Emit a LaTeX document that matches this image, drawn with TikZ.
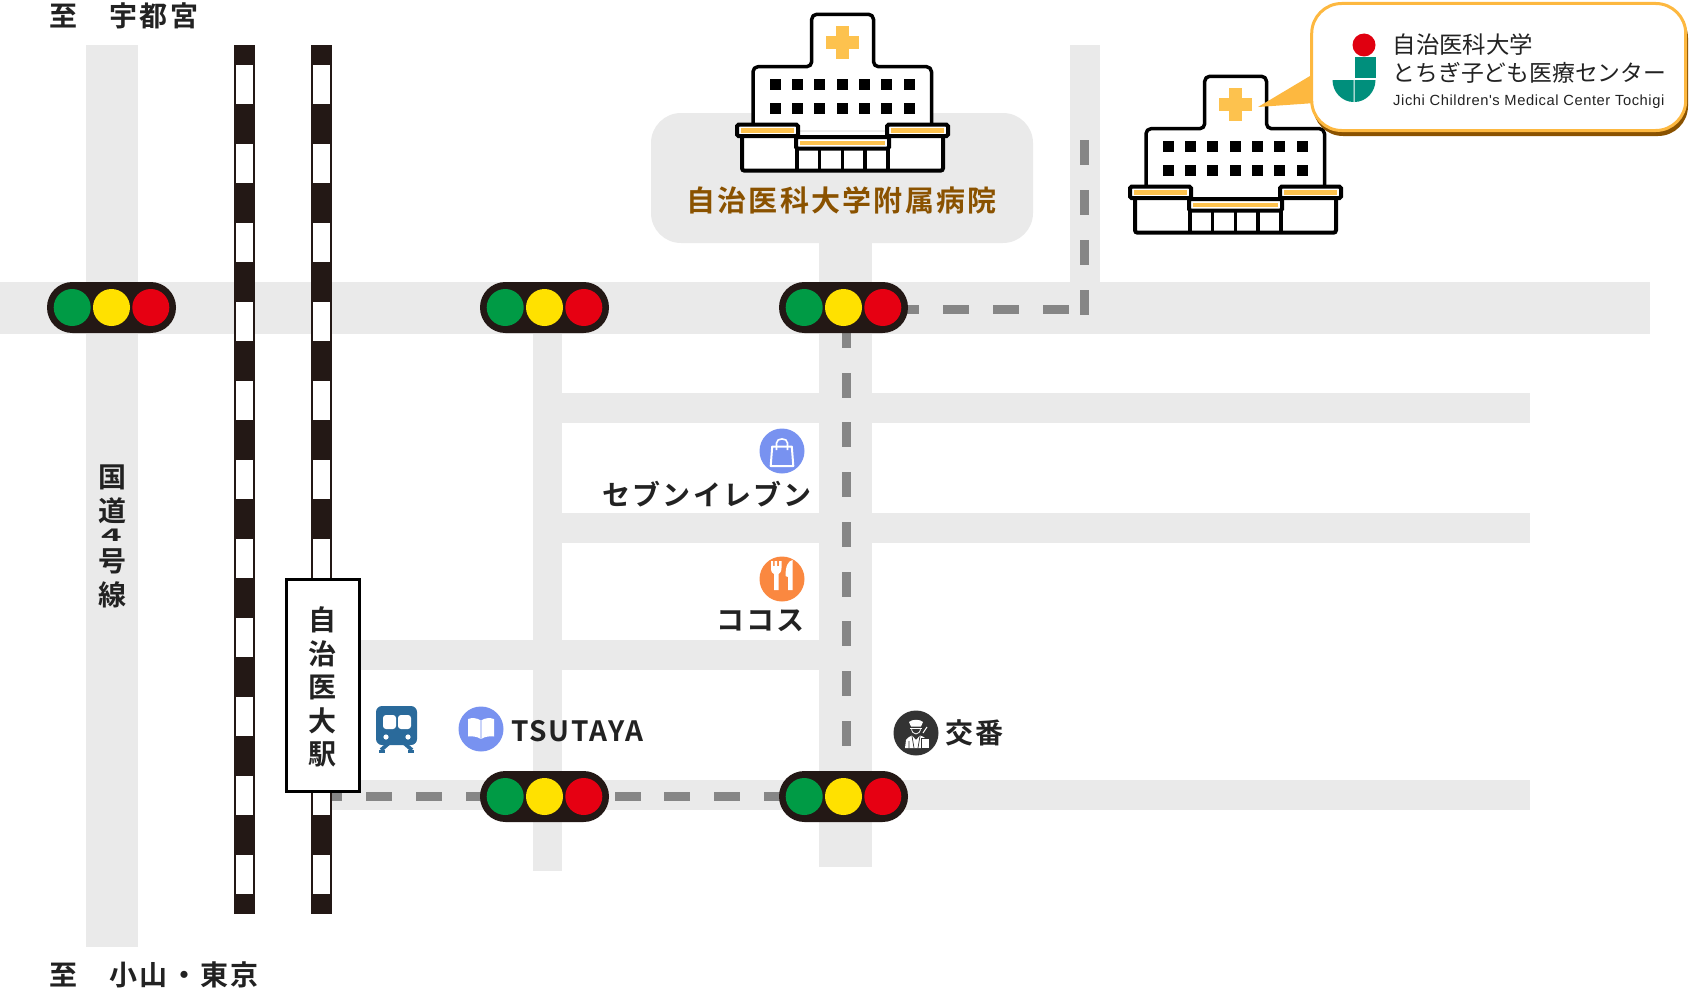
\documentclass[tikz,border=0pt]{standalone}
\usepackage{graphicx}
\usepackage{fontspec}
\newfontfamily\jp[LetterSpace=8]{Noto Sans CJK JP Bold}
\newfontfamily\jpt[LetterSpace=6]{Noto Sans CJK JP Bold}
\newfontfamily\jpl[LetterSpace=8]{Noto Sans CJK JP Bold}
\newfontfamily\jpr{Noto Sans CJK JP}
\newfontfamily\en[LetterSpace=4]{Liberation Sans}
\definecolor{roadc}{HTML}{EAEAEA}
\definecolor{dashc}{HTML}{868686}
\definecolor{rail}{HTML}{231815}
\definecolor{sigg}{HTML}{009B45}
\definecolor{sigy}{HTML}{FFE100}
\definecolor{sigr}{HTML}{E60012}
\definecolor{hosp}{HTML}{FDC24E}
\definecolor{bubble}{HTML}{FDB840}
\definecolor{brownc}{HTML}{8A5200}
\definecolor{teal}{HTML}{008F7C}
\definecolor{redc}{HTML}{E00010}
\definecolor{iconb}{HTML}{7892F0}
\definecolor{icono}{HTML}{FA8840}
\definecolor{iconp}{HTML}{333333}
\definecolor{trainc}{HTML}{2A6A9B}
\definecolor{textc}{HTML}{222222}
\tikzset{
 roadbar/.style={fill=roadc,draw=none},
 dashbar/.style={fill=dashc,draw=none},
 lab/.style={inner sep=0pt,text=textc,font=\fontsize{28}{28}\jp},
 stack/.style={lab,align=center},
 signal/.pic={
  \fill[rail,rounded corners=25.4] (-64.5,-25.5) rectangle (64.5,25.5);
  \fill[sigg] (-39.3,0) circle (18.5);
  \fill[sigy] (0,0) circle (18.5);
  \fill[sigr] (39.3,0) circle (18.5);
 },
 hospital/.pic={
  \filldraw[fill=white,draw=black,line width=3.5,rounded corners=5,line join=round]
    (-89,88)--(-89,24.7)--(-30.3,24.7)--(-30.3,-27.7)--(31.5,-27.7)--(31.5,24.7)--(89.5,24.7)--(89.5,88);
  \filldraw[fill=white,draw=black,line width=4,rounded corners=2.5]
    (-100,90)--(-100,128.7)--(101,128.7)--(101,90);
  \foreach \c in {0,...,6}{\foreach \r in {42,66}{
    \fill[black] ({-66.7+22.3*\c-5.5},\r-5.5) rectangle ++(11,11);}}
  \fill[hosp] (-6,-16) rectangle (7,17);
  \fill[hosp] (-16,-6) rectangle (17,7);
  \filldraw[fill=white,draw=black,line width=4,rounded corners=1.5] (-105,82.7) rectangle (-44,94);
  \filldraw[fill=white,draw=black,line width=4,rounded corners=1.5] (45,82.7) rectangle (106,94);
  \filldraw[fill=white,draw=black,line width=4,rounded corners=1.5] (-46,95) rectangle (47,106.5);
  \fill[hosp] (-101,86) rectangle (-48,91);
  \fill[hosp] (48.7,86) rectangle (102,91);
  \fill[hosp] (-42,99) rectangle (43,103.3);
  \foreach \x in {-45,-22.7,0.3,23,46}{\draw[black,line width=3.4] (\x,106.5)--(\x,128.7);}
 },
}
\begin{document}
\begin{tikzpicture}[x=1pt,y=-1pt]
\useasboundingbox (0,0) rectangle (1689,990);
% roads
\fill[roadbar] (0,282) rectangle (1650,334);
\fill[roadbar] (86,45) rectangle (138,947);
\fill[roadbar] (533,282) rectangle (562,871);
\fill[roadbar] (819,240) rectangle (872,867);
\fill[roadbar] (1069.5,45) rectangle (1099.5,282);
\fill[roadbar] (562,393) rectangle (1530,423);
\fill[roadbar] (562,513) rectangle (1530,543);
\fill[roadbar] (340,640) rectangle (819,670);
\fill[roadbar] (320,780) rectangle (1530,810);
\fill[roadc,rounded corners=30] (651,113) rectangle (1033,243);
% dashes
\foreach \y in {323,372.5,422,472,522,572,621,671,721,771}{\fill[dashbar] (842,\y) rectangle ++(9,25);}
\foreach \x in {893,943,993,1043}{\fill[dashbar] (\x,305) rectangle ++(25.5,9);}
\foreach \y in {140,190,240,290}{\fill[dashbar] (1080,\y) rectangle ++(9,25);}
\foreach \x in {316,366,416,466,515,565,615,664,714,764}{\fill[dashbar] (\x,792) rectangle ++(25.5,9);}
% rails
\foreach \x in {234,311}{
  \fill[rail] (\x,45) rectangle ++(21,869);
  \foreach \k in {0,...,10}{\fill[white] (\x+2,65+79*\k) rectangle ++(17,38.5);}
}
% station
\node[draw=black,fill=white,line width=3,minimum width=73,minimum height=212,inner sep=0pt] (stationbox) at (323,685) {};
\node[stack] (station) at (322,687) {自\\[5.5pt]治\\[5.5pt]医\\[5.5pt]大\\[5.5pt]駅};
% hospitals
\pic at (842,42) {hospital};
\pic at (1235,104) {hospital};
% callout
\fill[brownc,rounded corners=30] (1313,8) rectangle (1688,136);
\fill[bubble] (1258,107)--(1315,73)--(1315,103)--cycle;
\node[draw=bubble,fill=white,line width=3,rounded corners=30,minimum width=374,minimum height=127,inner sep=0pt] (bubblebox) at (1498.7,67) {};
\fill[redc] (1364,45) circle (11.5);
\fill[teal] (1354.5,57.5) rectangle (1375.5,78);
\fill[teal] (1332.5,80) .. controls (1332.5,92) and (1342,102) .. (1353.5,102) -- (1353.5,80) -- cycle;
\fill[teal] (1375.5,80) .. controls (1375.5,92) and (1366,102) .. (1354.5,102) -- (1354.5,80) -- cycle;
\node[anchor=west,inner sep=0pt,text=textc,font=\fontsize{23.4}{23}\jpr] (logo1) at (1392.5,44.5) {自治医科大学};
\node[anchor=west,inner sep=0pt,text=textc,font=\fontsize{22.8}{23}\jpr] (logo2) at (1392.5,72.5) {とちぎ子ども医療センター};
\node[anchor=west,inner sep=0pt,text=textc,font=\fontsize{14.7}{14}\en] (logo3) at (1393,102) {Jichi Children's Medical Center Tochigi};
% labels
\node[lab,anchor=west] (north) at (49,16) {至　宇都宮};
\node[lab,anchor=west] (south) at (49,975) {至　小山・東京};
\node[stack] (route) at (112,536) {国\\[6pt]道\\[-3.5pt]\raisebox{4pt}{\scalebox{1.25}[0.62]{4}}\\[-2.5pt]号\\[6pt]線};
\node[lab,text=brownc,font=\fontsize{29}{29}\jpl] (hospname) at (841.5,200) {自治医科大学附属病院};
\node[lab,anchor=east] (seven) at (812,494) {セブンイレブン};
\node[lab,anchor=east] (cocos) at (805,621) {ココス};
\node[lab,anchor=west,font=\fontsize{28}{28}\jpt] (tsutaya) at (511,731) {TSUTAYA};
\node[lab,anchor=west] (koban) at (945,733) {交番};
% bag icon
\node[circle,fill=iconb,minimum size=45,inner sep=0pt] (bagicon) at (782,451) {};
\draw[white,line width=2,line join=round] (772.2,446.5)--(791.8,446.5)--(793.3,466)--(770.7,466)--cycle;
\draw[white,line width=1.6] (776.5,450)--(776.5,443) .. controls (776.5,437.5) and (787.5,437.5) .. (787.5,443)--(787.5,450);
% food icon
\node[circle,fill=icono,minimum size=45,inner sep=0pt] (foodicon) at (782,579) {};
\fill[white] (771,561)--(773,561)--(773,566)--(774.7,566)--(774.7,561)--(777.2,561)--(777.2,566)--(779,566)--(779,561)--(781.5,561)--(781.5,568) .. controls (781.5,572) and (779.5,573.5) .. (778.5,574)--(778.5,590)--(774,590)--(774,574) .. controls (772.5,573.5) and (771,572) .. (771,568)--cycle;
\fill[white] (792.5,560) .. controls (788,561) and (785.5,566) .. (785.5,576)--(788,577)--(788,590)--(792.5,590)--cycle;
% book icon
\node[circle,fill=iconb,minimum size=45,inner sep=0pt] (bookicon) at (481,729) {};
\fill[white] (468,719) .. controls (472,717.5) and (477,718) .. (480,720)--(480,738.5) .. controls (477,736.5) and (472,736) .. (468,736.5)--cycle;
\fill[white] (494,719) .. controls (490,717.5) and (485,718) .. (482,720)--(482,738.5) .. controls (485,736.5) and (490,736) .. (494,736.5)--cycle;
\fill[iconb!40] (480,720) rectangle (482,738.5);
% train icon
\fill[trainc,rounded corners=6] (376,706) rectangle (417,745);
\fill[white,rounded corners=3] (383,715) rectangle (396,729);
\fill[white,rounded corners=3] (398,715) rectangle (411,729);
\fill[white] (386,737) circle (2.6);
\fill[white] (408,737) circle (2.6);
\draw[trainc,line width=3.8] (389,743)--(381,750);
\draw[trainc,line width=3.8] (404,743)--(412,750);
\draw[trainc,line width=3] (379,751)--(385,751);
\draw[trainc,line width=3] (408,751)--(414,751);
% police icon
\node[circle,fill=iconp,minimum size=45,inner sep=0pt] (policeicon) at (916,733) {};
\fill[white] (909,722) .. controls (912,719) and (920,719) .. (923,722)--(921,726.5)--(911,726.5)--cycle;
\draw[white,line width=0.9] (910,728)--(922,728);
\draw[white,line width=0.8] (911.5,728) .. controls (911.5,736) and (920.5,736) .. (920.5,728);
\fill[white] (905,748) -- (906,740) .. controls (908,737) and (911,736) .. (912,735.5)--(916,740)--(920,735.5) .. controls (922,736) and (924,737) .. (925,738)--(925,748)--cycle;
\draw[iconp,line width=0.7] (912,736)--(914,748) (920,736)--(918,748) (909,741)--(909,748);
\filldraw[fill=white,draw=iconp,line width=0.6] (921.5,738.5) rectangle (929,748.5);
\draw[white,line width=1] (923,733)--(927,727);
% signals
\pic at (111.5,307.5) {signal};
\pic at (544.5,307.5) {signal};
\pic at (843.5,307.5) {signal};
\pic at (544.5,796.5) {signal};
\pic at (843.5,796.5) {signal};
\end{tikzpicture}
\end{document}
